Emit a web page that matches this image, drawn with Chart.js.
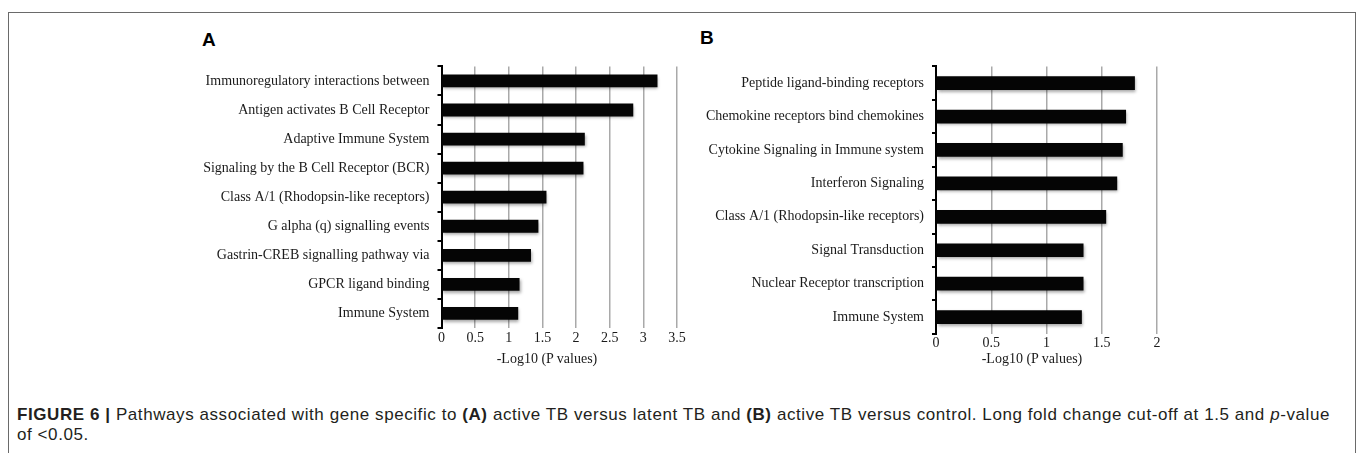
<!DOCTYPE html>
<html>
<head>
<meta charset="utf-8">
<script src="https://cdn.jsdelivr.net/npm/chart.js@4"></script>
<style>
  html, body { margin:0; padding:0; background:#fff; }
  body { width:1358px; height:453px; position:relative; overflow:hidden; font-family:"Liberation Sans", Arial, sans-serif; }
  #frame { position:absolute; left:8px; top:12px; width:1348px; height:480px; border:1px solid #6a6a6a; box-sizing:border-box; }
  .panel { position:absolute; font-family:"Liberation Sans", Arial, sans-serif; font-weight:bold; font-size:19px; color:#000; line-height:20px; }
  canvas { position:absolute; }
  .xtitle { position:absolute; font-family:"Liberation Serif", "Times New Roman", serif; font-size:14px; color:#1a1a1a; white-space:nowrap; transform:translate(-50%, -50%); }
  #caption { position:absolute; left:17px; top:405px; font-size:17px; line-height:20px; color:#231f20; white-space:nowrap; }
  #caption b { font-weight:bold; }
</style>
</head>
<body>
<div id="frame"></div>
<div class="panel" style="left:202px; top:30px;">A</div>
<div class="panel" style="left:700px; top:28px;">B</div>
<canvas id="chartA" width="560" height="330" style="left:150px; top:50px;"></canvas>
<canvas id="chartB" width="520" height="330" style="left:700px; top:50px;"></canvas>
<div class="xtitle" style="left:547px; top:359px;">-Log10 (P values)</div>
<div class="xtitle" style="left:1032px; top:359px;">-Log10 (P values)</div>
<div id="caption"><span id="line1"><b>FIGURE 6 |</b> Pathways associated with gene specific to <b>(A)</b> active TB versus latent TB and <b>(B)</b> active TB versus control. Long fold change cut-off at 1.5 and <i>p</i>-value</span><br><span id="line2">of &lt;0.05.</span></div>
<script>
// ---- data ----
const categoriesA = [
  "Immunoregulatory interactions between",
  "Antigen activates B Cell Receptor",
  "Adaptive Immune System",
  "Signaling by the B Cell Receptor (BCR)",
  "Class A/1 (Rhodopsin-like receptors)",
  "G alpha (q) signalling events",
  "Gastrin-CREB signalling pathway via",
  "GPCR ligand binding",
  "Immune System"
];
const valuesA = [3.21, 2.85, 2.13, 2.11, 1.56, 1.44, 1.33, 1.16, 1.14];
const xMaxA = 3.5;

const categoriesB = [
  "Peptide ligand-binding receptors",
  "Chemokine receptors bind chemokines",
  "Cytokine Signaling in Immune system",
  "Interferon Signaling",
  "Class A/1 (Rhodopsin-like receptors)",
  "Signal Transduction",
  "Nuclear Receptor transcription",
  "Immune System"
];
const valuesB = [1.80, 1.72, 1.69, 1.64, 1.54, 1.335, 1.335, 1.32];
const xMaxB = 2;
const xStep = 0.5;

// ---- fit caption line width ----
(function(){
  const l1 = document.getElementById('line1');
  const target = 1313;
  const w = l1.getBoundingClientRect().width;
  const n = l1.textContent.length;
  const ls = (target - w) / n;
  document.getElementById('caption').style.letterSpacing = ls + 'px';
})();

const shadowPlugin = {
  id: 'barShadow',
  beforeDatasetsDraw(chart) {
    const ctx = chart.ctx;
    ctx.save();
    ctx.shadowColor = 'rgba(0,0,0,0.35)';
    ctx.shadowBlur = 3;
    ctx.shadowOffsetX = 1;
    ctx.shadowOffsetY = 2;
  },
  afterDatasetsDraw(chart) { chart.ctx.restore(); }
};

const serif = '"Liberation Serif", "Times New Roman", serif';

function makeChart(id, labels, values, xMax, cfg) {
  return new Chart(document.getElementById(id), {
    type: 'bar',
    data: {
      labels: labels,
      datasets: [{
        data: values,
        backgroundColor: '#050505',
        borderWidth: 0,
        barPercentage: cfg.barPct,
        categoryPercentage: 1.0
      }]
    },
    options: {
      indexAxis: 'y',
      responsive: false,
      animation: false,
      devicePixelRatio: 1,
      layout: { padding: { top: cfg.padTop, right: cfg.padRight, bottom: 0, left: 0 } },
      plugins: { legend: { display: false }, tooltip: { enabled: false } },
      scales: {
        x: {
          min: 0, max: xMax,
          afterFit: (s) => { s.height = cfg.xHeight; },
          ticks: {
            stepSize: xStep,
            padding: cfg.xTickPad,
            color: '#1a1a1a',
            font: { family: serif, size: 14 },
            callback: (v) => String(v)
          },
          grid: { color: '#a9a9a9', lineWidth: 1.5, drawTicks: false },
          border: { display: false }
        },
        y: {
          afterFit: (s) => { s.width = cfg.yWidth; },
          ticks: {
            padding: cfg.yTickPad,
            color: '#1a1a1a',
            font: { family: serif, size: 14 }
          },
          grid: { display: true, drawOnChartArea: false, drawTicks: true, tickLength: 4, offset: true, color: '#000', lineWidth: 2 },
          border: { display: true, color: '#000', width: 2 }
        }
      }
    },
    plugins: [shadowPlugin]
  });
}

makeChart('chartA', categoriesA, valuesA, xMaxA, {
  barPct: 0.44, padTop: 12.8, padRight: 33, xHeight: 52, xTickPad: 2, yWidth: 291.5, yTickPad: 8
});
makeChart('chartB', categoriesB, valuesB, xMaxB, {
  barPct: 0.41, padTop: 9.9, padRight: 63, xHeight: 46.2, xTickPad: 1, yWidth: 236, yTickPad: 8
});
</script>
</body>
</html>
